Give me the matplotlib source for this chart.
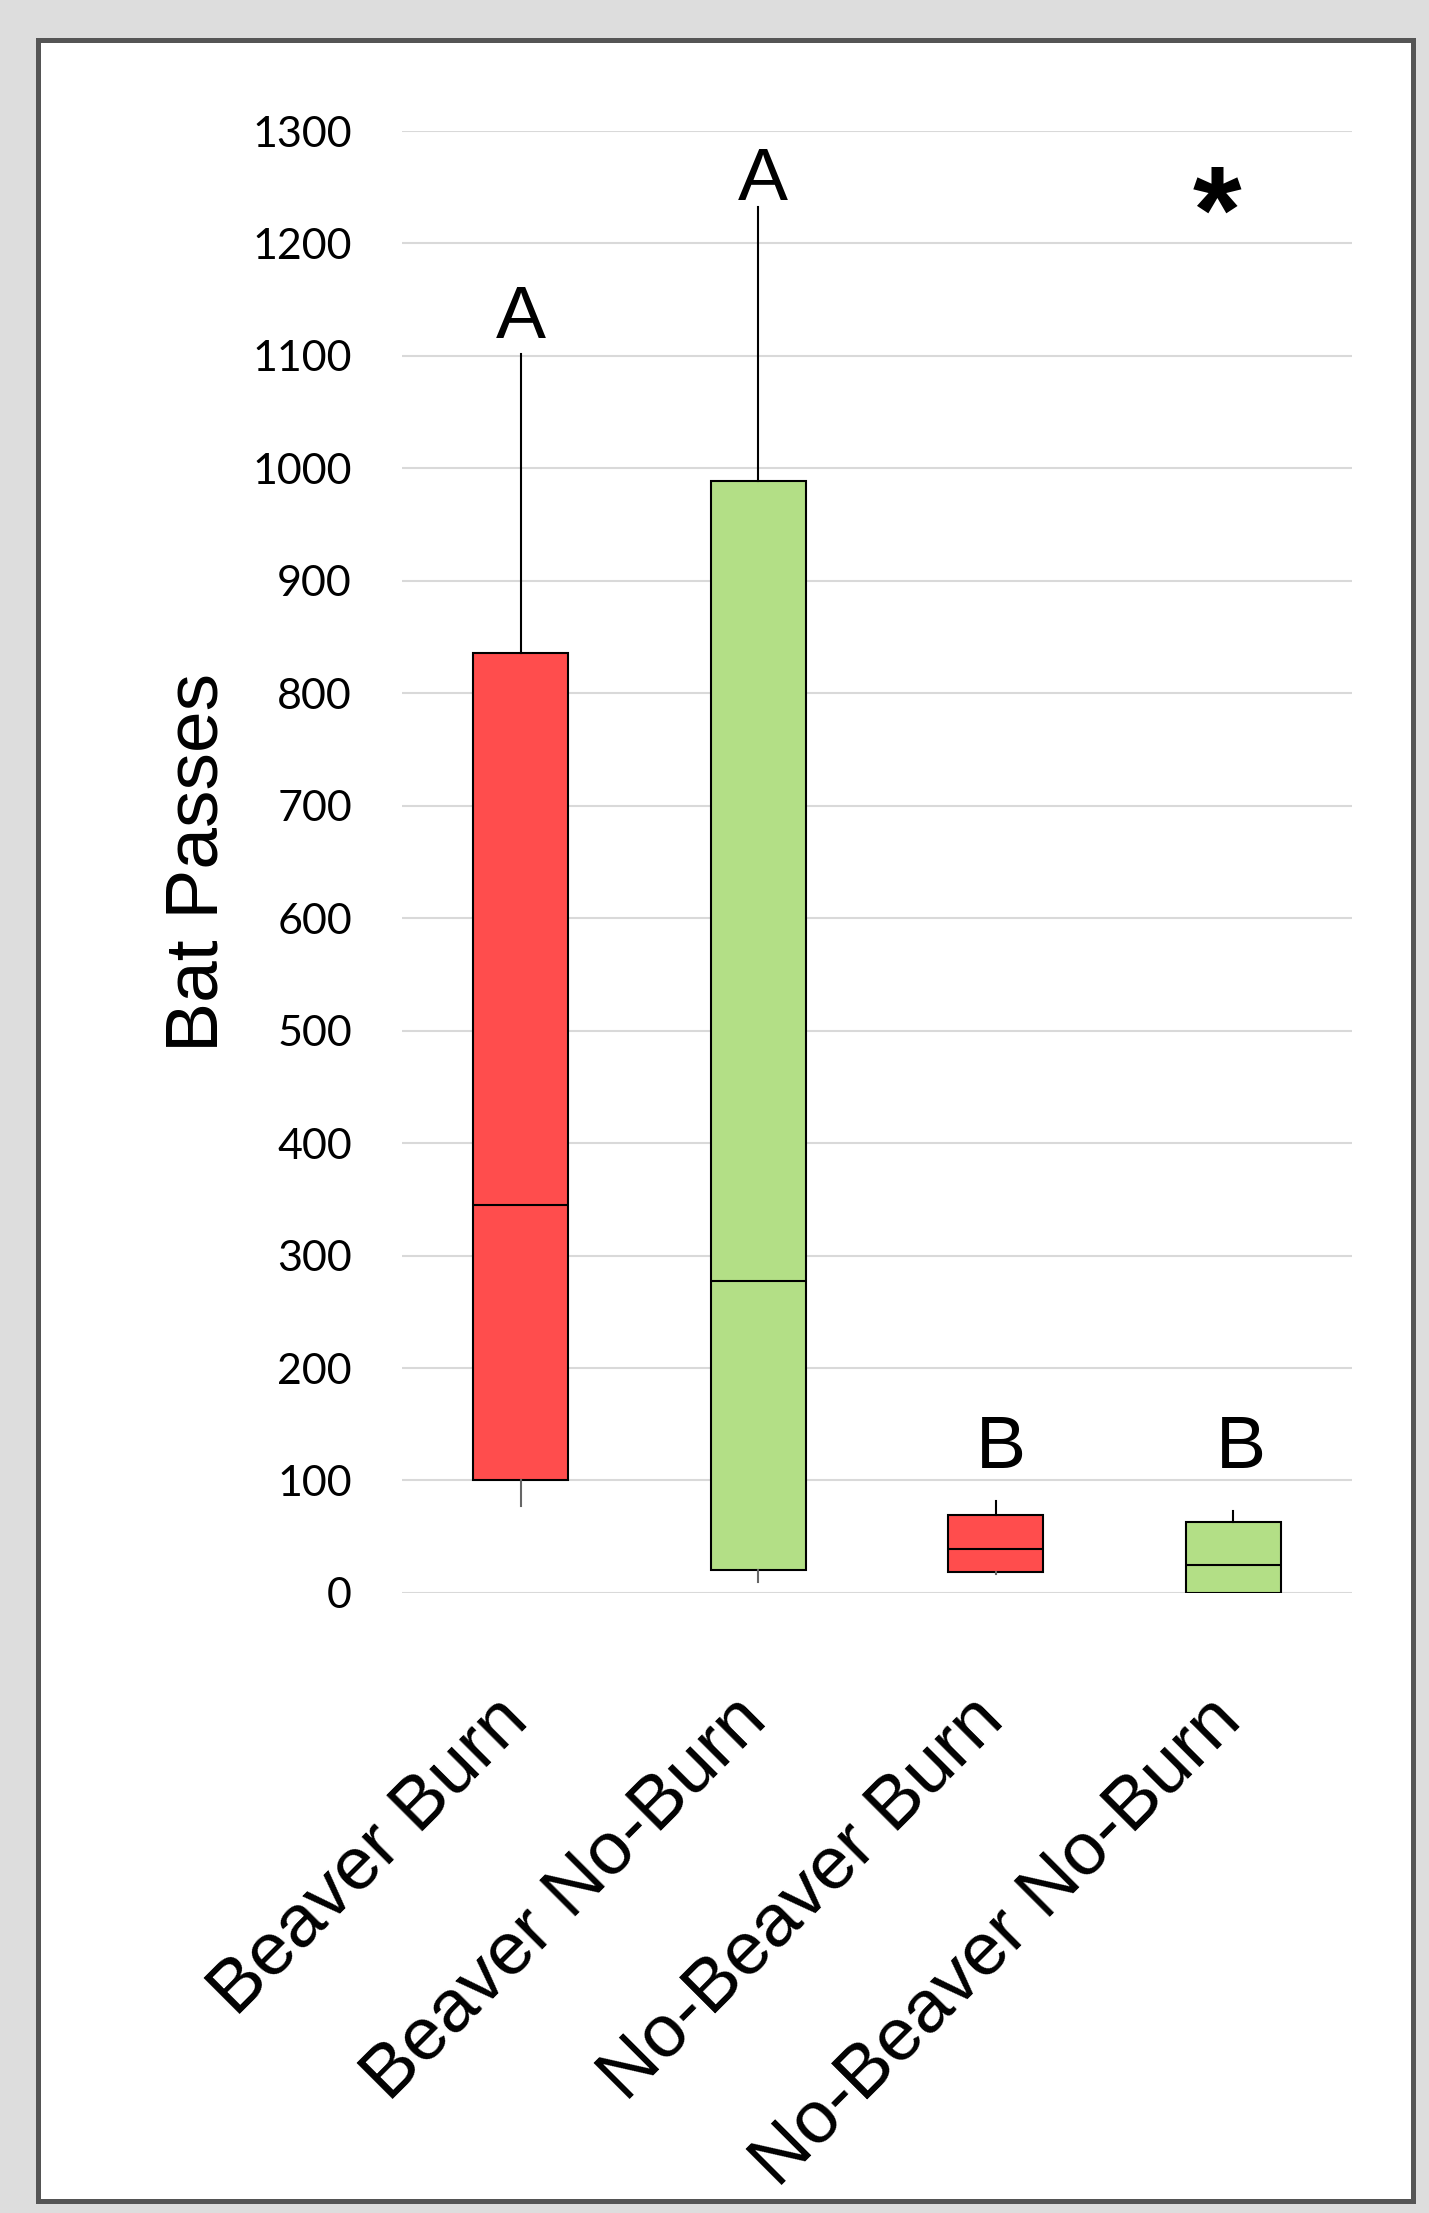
import matplotlib
matplotlib.use("Agg")
import matplotlib.pyplot as plt
import matplotlib.transforms as mtrans
from matplotlib.patches import Rectangle

# data
groups = ["Beaver Burn", "Beaver No-Burn", "No-Beaver Burn", "No-Beaver No-Burn"]
whislo = [77, 10, 17, 0]
q1 = [100, 20, 19, 0]
med = [345, 277, 39, 25]
q3 = [836, 989, 69, 63]
whishi = [1102, 1232, 82, 73]
letters = ["A", "A", "B", "B"]
letter_x = [0.0, 1.02, 2.02, 3.03]
letter_y = [1133, 1256, 128, 128]
box_colors = ["#FF4D4D", "#B3DF86", "#FF4D4D", "#B3DF86"]
yticks = list(range(0, 1400, 100))

fig = plt.figure(figsize=(14.29, 22.13), dpi=100, facecolor="#DDDDDD")
# white panel with dark border
fig.patches.append(Rectangle((0.0266, 0.0054), 0.9622, 0.9765, transform=fig.transFigure,
                             facecolor="white", edgecolor="#555555", linewidth=3.6, zorder=-1))

ax = fig.add_axes([0.2813, 0.2802, 0.6650, 0.6606])
ax.set_facecolor("none")

stats = []
for i in range(len(groups)):
    stats.append(dict(label=groups[i], whislo=whislo[i], q1=q1[i], med=med[i],
                      q3=q3[i], whishi=whishi[i], fliers=[]))

bp = ax.bxp(stats, positions=range(len(groups)), widths=0.4, patch_artist=True,
            showcaps=False, showfliers=False,
            boxprops=dict(edgecolor="black", linewidth=1.5),
            medianprops=dict(color="black", linewidth=1.5),
            whiskerprops=dict(color="black", linewidth=1.5))
for patch, c in zip(bp["boxes"], box_colors):
    patch.set_facecolor(c)
# lower whiskers are grey
for w in bp["whiskers"][0::2]:
    w.set_color("#666666")

for i, t in enumerate(letters):
    ax.text(letter_x[i], letter_y[i], t, ha="center", va="center", fontsize=54,
            family="Liberation Sans", clip_on=False)
ax.text(2.93, 1192, "*", ha="center", va="baseline", fontsize=90, fontweight="bold",
        family="Liberation Sans", clip_on=False)

ax.set_xlim(-0.5, 3.5)
ax.set_ylim(0, 1300)
ax.set_yticks(yticks)
ax.set_yticklabels([str(v) for v in yticks], family="Lato", fontsize=31)
ax.yaxis.grid(True, color="#D9D9D9", linewidth=1.5)
ax.set_axisbelow(True)
ax.tick_params(axis="both", length=0)
ax.tick_params(axis="y", pad=36)
ax.set_xticks(range(len(groups)))
ax.set_xticklabels(groups, rotation=45, ha="right", rotation_mode="anchor",
                   family="Liberation Sans", fontsize=54)
ax.tick_params(axis="x", pad=66)
shift = mtrans.ScaledTranslation(-0.28, 0.0, fig.dpi_scale_trans)
for lab in ax.get_xticklabels():
    lab.set_transform(lab.get_transform() + shift)
for s in ax.spines.values():
    s.set_visible(False)

ax.set_ylabel("Bat Passes", family="Liberation Sans", fontsize=54)
ax.yaxis.set_label_coords(-0.178, 0.5)

fig.savefig("out.png", dpi=100, facecolor=fig.get_facecolor())
